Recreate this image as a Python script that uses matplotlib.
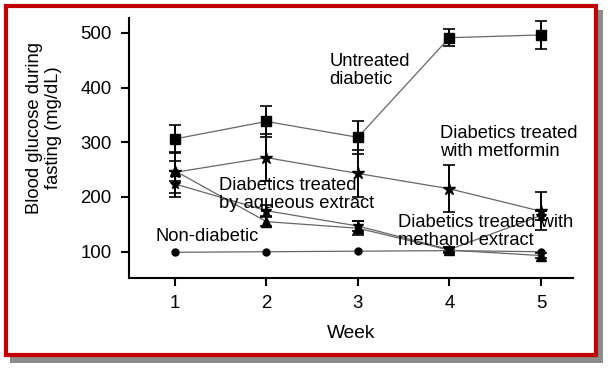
"""
Fasting blood glucose over five weeks, per treatment group.
"""
import matplotlib
matplotlib.use("Agg")
import matplotlib.pyplot as plt
from matplotlib.patches import Rectangle


# Settings
plt.rcParams["font.family"] = ["Liberation Sans", "DejaVu Sans"]

# Data
weeks = [1, 2, 3, 4, 5]
untreated = [306, 338, 309, 491, 496]
untreated_err = [26, 28, 30, 15, 26]
metformin = [245, 272, 243, 215, 174]
metformin_err = [38, 43, 43, 43, 35]
aqueous = [248, 155, 143, 103, 93]
aqueous_err = [18, 8, 13, 5, 4]
methanol = [224, 175, 147, 104, 166]
methanol_err = [24, 10, 9, 4, 8]
non_diabetic = [99, 100, 101, 102, 100]

y_ticks = [100, 200, 300, 400, 500]
labels = {
    "Untreated\ndiabetic": (2.69, 431),
    "Diabetics treated\nwith metformin": (3.90, 300),
    "Diabetics treated\nby aqueous extract": (1.48, 204),
    "Non-diabetic": (0.79, 127),
    "Diabetics treated with\nmethanol extract": (3.44, 137),
}


# I Helper Functions
def draw_frame(fig):
    """Red border with a grey drop shadow round the whole figure"""
    w, h = 608, 370
    shadow = Rectangle((10 / w, 1 - 363 / h), 593 / w, 353 / h,
                       transform=fig.transFigure, facecolor="#8c8c8c",
                       edgecolor="none", zorder=-3)
    frame = Rectangle((6 / w, 1 - 355 / h), 590 / w, 349 / h,
                      transform=fig.transFigure, facecolor="white",
                      edgecolor="#c00000", linewidth=3, zorder=-2)
    fig.patches.extend([shadow, frame])


def plot_series(ax, y, err, marker, ms):
    ax.plot(weeks, y, color="#666666", lw=0.9, zorder=2)
    if err is not None:
        ax.errorbar(weeks, y, yerr=err, fmt="none", ecolor="black",
                    elinewidth=1.4, capsize=4.5, capthick=1.2, zorder=3)
    ax.plot(weeks, y, linestyle="none", marker=marker, ms=ms,
            color="black", zorder=4)


# II Main Functions
def dev():
    fig = plt.figure(figsize=(6.08, 3.70), dpi=100)
    fig.patch.set_facecolor("white")
    draw_frame(fig)
    ax = fig.add_axes([0.2122, 0.2486, 0.7302, 0.7028])
    ax.patch.set_alpha(0)

    plot_series(ax, untreated, untreated_err, "s", 6.5)
    plot_series(ax, metformin, metformin_err, "*", 9)
    plot_series(ax, aqueous, aqueous_err, "^", 7)
    plot_series(ax, methanol, methanol_err, "*", 7)
    plot_series(ax, non_diabetic, None, "o", 5)

    for txt, (x, y) in labels.items():
        ax.text(x, y, txt, fontsize=13.2, ha="left", va="center",
                linespacing=1.05, zorder=5)

    ax.set_xlim(0.5, 5.35)
    ax.set_ylim(52, 527)
    ax.set_xticks(weeks)
    ax.set_yticks(y_ticks)
    for side in ["top", "right"]:
        ax.spines[side].set_visible(False)
    for side in ["left", "bottom"]:
        ax.spines[side].set_linewidth(1.5)
    ax.tick_params(direction="out", length=5.5, width=1.5, labelsize=13.4, pad=7)

    ax.set_xlabel("Week", fontsize=13.8, labelpad=9)
    ax.set_ylabel("Blood glucose during\nfasting (mg/dL)", fontsize=13.2,
                  linespacing=1.15, va="center")
    ax.yaxis.set_label_coords(-0.191, 0.577)

    fig.savefig("out.png", dpi=100)
    plt.close(fig)


# IV Main
def main():
    dev()


if __name__ == "__main__":
    main()
